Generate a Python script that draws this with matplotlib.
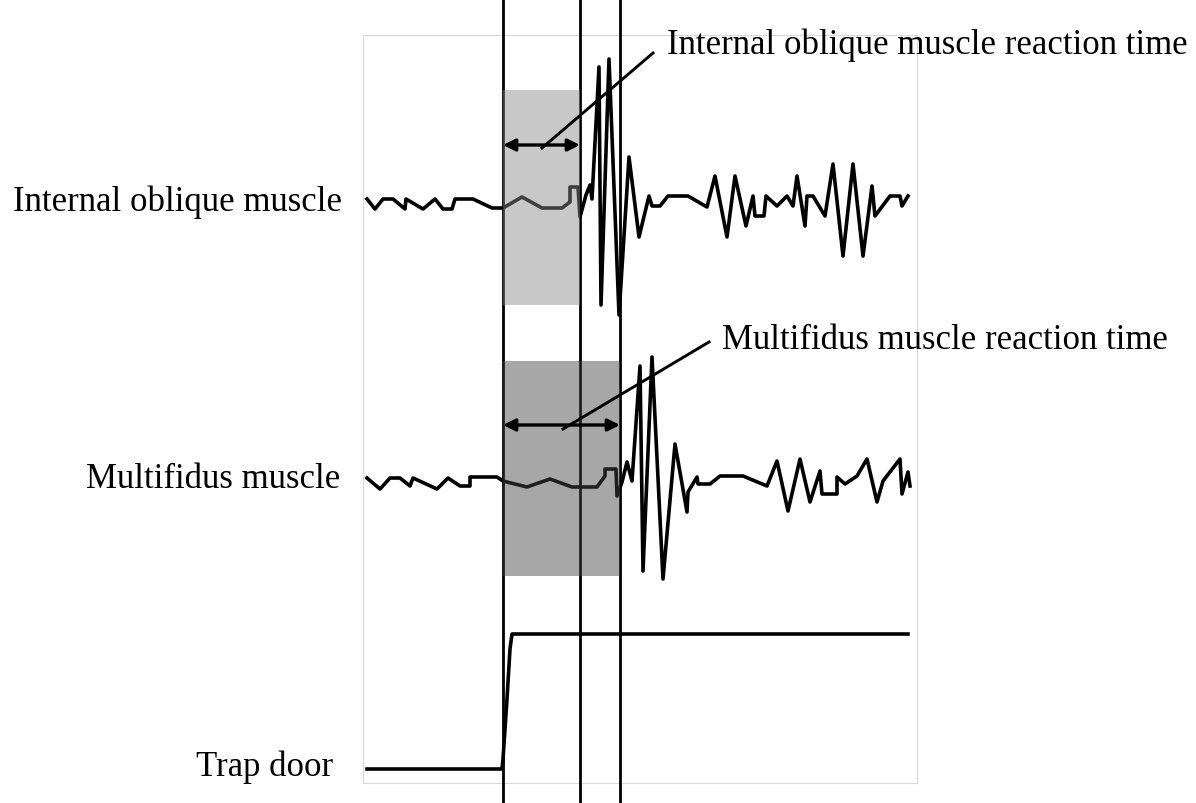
import numpy as np
import matplotlib.pyplot as plt
from matplotlib.patches import Rectangle

plt.rcParams['font.family'] = ['Liberation Serif', 'DejaVu Serif']

# EMG traces, time in ms relative to trap door release, amplitude in arbitrary units
io_t = [-136, -128, -120, -110, -98, -97, -80, -68, -60, -51, -48, -30, -11, 0,
        19, 39, 59, 67, 67, 75, 77, 83, 87, 89, 96, 98, 106, 116, 126, 136,
        146, 149, 157, 165, 185, 204, 212, 224, 232, 243, 250, 252, 261, 263,
        274, 284, 290, 294, 302, 304, 310, 322, 330, 340, 350, 360, 369, 372,
        387, 397, 399, 405]
io_amp = [5, -5, 5, 5, -5, 5, -5, 5, -5, -5, 5, 5, -4, -4,
          7, -4, -4, 2, 17, 17, -13, 9, 19, 5, 137, -101, 145, -111, 47, -33,
          8, -2, -2, 8, 8, -3, 28, -33, 28, -22, 8, -12, -12, 8,
          -2, 8, -2, 28, -22, 8, 8, -12, 40, -52, 40, -52, 18, -12,
          8, 8, -2, 8]

mf_t = [-136, -123, -113, -103, -93, -90, -66, -55, -43, -33, -33, -6, 0,
        24, 47, 69, 94, 102, 102, 113, 114, 119, 124, 129, 137, 140, 149, 160,
        172, 184, 185, 194, 195, 207, 217, 240, 264, 274, 285, 297, 307, 317,
        319, 334, 334, 342, 354, 364, 374, 380, 397, 399, 405, 407]
mf_amp = [3, -8, 3, 3, -5, 3, -8, 3, -5, -5, 4, 4, 0,
          -6, 2, -6, -6, 5, 12, 12, -15, -1, 19, 0, 115, -90, 124, -98,
          37, -31, -11, 4, -3, -3, 5, 5, -5, 20, -30, 22, -21, 10,
          -13, -13, 4, -3, 5, 22, -21, 0, 22, -13, 9, -5]

door_t = [-136, -1, 0, 4, 7, 9, 405]
door_amp = [0, 0, 10, 70, 120, 135, 135]

# reaction times (ms)
io_rt = 77
mf_rt = 117

labels = ['Internal oblique muscle', 'Multifidus muscle', 'Trap door']
rt_labels = ['Internal oblique muscle reaction time',
             'Multifidus muscle reaction time']

# vertical placement of each channel
io_base, mf_base, door_base = 599, 322, 34

fig = plt.figure(figsize=(11.96, 8.04), dpi=100)
ax = fig.add_axes([0, 0, 1, 1])
ax.set_xlim(-503, 693)
ax.set_ylim(0, 804)
ax.axis('off')

# thin frame around the recording
ax.add_patch(Rectangle((-140, 20), 554, 748, fill=False,
                       edgecolor='#d8d8d8', lw=0.8, zorder=0))

lw = 2.6
ax.plot(io_t, np.array(io_amp) + io_base, color='black', lw=lw,
        solid_joinstyle='round', zorder=1)
ax.plot(mf_t, np.array(mf_amp) + mf_base, color='black', lw=lw,
        solid_joinstyle='round', zorder=1)
ax.plot(door_t, np.array(door_amp) + door_base, color='black', lw=lw, zorder=1)

for t in [0, io_rt, mf_rt]:
    ax.axvline(t, color='black', lw=2.0, zorder=1)

# shaded latency windows
ax.add_patch(Rectangle((0, io_base - 101), io_rt, 215,
                       facecolor=(0.537, 0.537, 0.537), alpha=0.467,
                       edgecolor='none', zorder=2))
ax.add_patch(Rectangle((0, mf_base - 95), mf_rt, 215,
                       facecolor=(0.267, 0.267, 0.267), alpha=0.467,
                       edgecolor='none', zorder=2))

# double-headed latency arrows with leader lines to their labels
arrow_kw = dict(arrowstyle='<|-|>', color='black', lw=2.4,
                mutation_scale=18, shrinkA=0, shrinkB=0)
ax.annotate('', xy=(0, io_base + 59), xytext=(io_rt, io_base + 59),
            arrowprops=arrow_kw, zorder=3)
ax.annotate('', xy=(0, mf_base + 56), xytext=(mf_rt, mf_base + 56),
            arrowprops=arrow_kw, zorder=3)

ax.plot([39, 150], [io_base + 56, io_base + 151], color='black', lw=2.1, zorder=3)
ax.plot([60, 206], [mf_base + 52, mf_base + 139], color='black', lw=2.1, zorder=3)

fs = 25
ax.text(164, io_base + 160, rt_labels[0], fontsize=fs, va='center', ha='left')
ax.text(219, mf_base + 141, rt_labels[1], fontsize=fs, va='center', ha='left')

ax.text(-161, io_base + 3, labels[0], fontsize=fs, va='center', ha='right')
ax.text(-163, mf_base + 2, labels[1], fontsize=fs, va='center', ha='right')
ax.text(-170, door_base + 3, labels[2], fontsize=fs, va='center', ha='right')

fig.savefig('out.png', dpi=100)
